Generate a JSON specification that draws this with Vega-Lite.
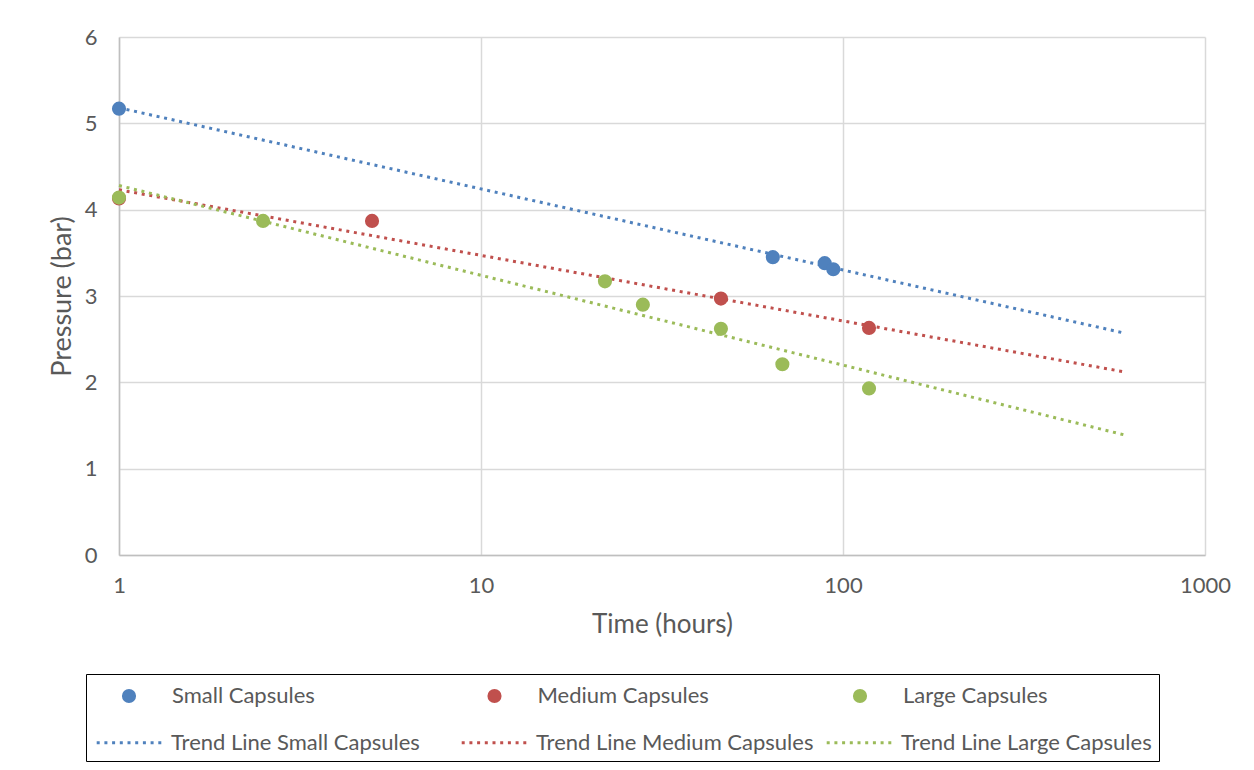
{
  "$schema": "https://vega.github.io/schema/vega-lite/v6.json",
  "width": 1086,
  "height": 518,
  "autosize": {"type": "none"},
  "padding": {"left": 119, "top": 37, "right": 49, "bottom": 215},
  "background": "white",
  "config": {
    "font": "Lato",
    "view": {"stroke": null},
    "axis": {
      "labelFont": "Lato",
      "titleFont": "Lato",
      "labelColor": "#595959",
      "titleColor": "#595959",
      "labelFontSize": 22,
      "titleFontSize": 26,
      "titleFontWeight": "normal",
      "gridColor": "#D9D9D9",
      "gridWidth": 1.5,
      "domainColor": "#BFBFBF",
      "domainWidth": 1.5,
      "ticks": false
    },
    "legend": {
      "labelFont": "Lato",
      "labelFontSize": 22,
      "labelColor": "#595959",
      "labelLimit": 500
    }
  },
  "datasets": {
    "points": [
      {"series": "Small Capsules", "time": 1, "pressure": 5.17},
      {"series": "Small Capsules", "time": 64, "pressure": 3.45},
      {"series": "Small Capsules", "time": 89, "pressure": 3.38},
      {"series": "Small Capsules", "time": 94, "pressure": 3.31},
      {"series": "Medium Capsules", "time": 1, "pressure": 4.13},
      {"series": "Medium Capsules", "time": 5, "pressure": 3.87},
      {"series": "Medium Capsules", "time": 46, "pressure": 2.97},
      {"series": "Medium Capsules", "time": 118, "pressure": 2.63},
      {"series": "Large Capsules", "time": 1, "pressure": 4.14},
      {"series": "Large Capsules", "time": 2.5, "pressure": 3.87},
      {"series": "Large Capsules", "time": 22, "pressure": 3.17},
      {"series": "Large Capsules", "time": 28, "pressure": 2.9},
      {"series": "Large Capsules", "time": 46, "pressure": 2.62},
      {"series": "Large Capsules", "time": 68, "pressure": 2.21},
      {"series": "Large Capsules", "time": 118, "pressure": 1.93}
    ],
    "trends": [
      {"series": "Trend Line Small Capsules", "time": 1, "pressure": 5.18},
      {"series": "Trend Line Small Capsules", "time": 600, "pressure": 2.57},
      {"series": "Trend Line Medium Capsules", "time": 1, "pressure": 4.23},
      {"series": "Trend Line Medium Capsules", "time": 600, "pressure": 2.12},
      {"series": "Trend Line Large Capsules", "time": 1, "pressure": 4.28},
      {"series": "Trend Line Large Capsules", "time": 600, "pressure": 1.39}
    ]
  },
  "layer": [
    {
      "data": {"name": "trends"},
      "mark": {"type": "line", "strokeWidth": 3, "strokeDash": [3, 4.7], "clip": false},
      "encoding": {
        "x": {"field": "time", "type": "quantitative"},
        "y": {"field": "pressure", "type": "quantitative"},
        "stroke": {
          "field": "series", "type": "nominal",
          "scale": {
            "domain": ["Trend Line Small Capsules", "Trend Line Medium Capsules", "Trend Line Large Capsules"],
            "range": ["#4F81BD", "#C0504D", "#9BBB59"]
          },
          "legend": {
            "title": " ",
            "titleFontSize": 45,
            "titlePadding": 4,
            "orient": "none",
            "legendX": -33,
            "legendY": 637,
            "direction": "horizontal",
            "columns": 3,
            "gridAlign": "all",
            "columnPadding": 6,
            "padding": 7,
            "strokeColor": "black",
            "symbolType": "M-0.8,0H5.5",
            "symbolSize": 484,
            "symbolStrokeWidth": 3,
            "symbolDash": [3, 4.7],
            "labelOffset": 53
          }
        },
        "detail": {"field": "series"}
      }
    },
    {
      "data": {"name": "points"},
      "mark": {"type": "point", "filled": true, "shape": "circle", "size": 200, "opacity": 1},
      "encoding": {
        "x": {
          "field": "time", "type": "quantitative",
          "scale": {"type": "log", "domain": [1, 1000], "nice": false},
          "axis": {"values": [1, 10, 100, 1000], "format": "d", "title": "Time (hours)", "labelPadding": 20, "labelFlush": false, "titlePadding": 15, "grid": true}
        },
        "y": {
          "field": "pressure", "type": "quantitative",
          "scale": {"domain": [0, 6], "nice": false, "zero": true},
          "axis": {"values": [0, 1, 2, 3, 4, 5, 6], "format": "d", "title": "Pressure (bar)", "titleFontSize": 27, "labelPadding": 22, "titlePadding": 8, "grid": true}
        },
        "fill": {
          "field": "series", "type": "nominal",
          "scale": {
            "domain": ["Small Capsules", "Medium Capsules", "Large Capsules"],
            "range": ["#4F81BD", "#C0504D", "#9BBB59"]
          },
          "legend": {
            "title": null,
            "orient": "none",
            "legendX": -1,
            "legendY": 648,
            "direction": "horizontal",
            "columns": 3,
            "gridAlign": "all",
            "columnPadding": 139.5,
            "padding": 0,
            "symbolType": "circle",
            "symbolSize": 200,
            "labelOffset": 32
          }
        }
      }
    }
  ]
}
